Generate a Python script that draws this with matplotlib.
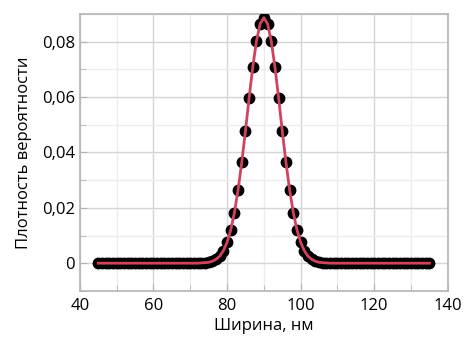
import matplotlib
matplotlib.use("Agg")
import matplotlib.pyplot as plt
from matplotlib.ticker import FuncFormatter, MultipleLocator

# Ширина, нм (шаг 1 нм)
width_nm = list(range(45, 136))

# Плотность вероятности
tail = [0.0] * 28
left = [0.0001, 0.0002, 0.0003, 0.0007, 0.0014, 0.0025, 0.0045, 0.0075,
        0.0120, 0.0183, 0.0265, 0.0365, 0.0478, 0.0598, 0.0710, 0.0803, 0.0865]
peak = [0.0887]
right = [0.0865, 0.0803, 0.0710, 0.0598, 0.0478, 0.0365, 0.0265, 0.0183,
         0.0120, 0.0075, 0.0045, 0.0025, 0.0014, 0.0007, 0.0003, 0.0002, 0.0001]
density = tail + left + peak + right + tail

plt.rcParams["font.family"] = ["Open Sans", "DejaVu Sans"]

fig = plt.figure(figsize=(4.67, 3.43), dpi=100)
ax = fig.add_axes([0.171, 0.152, 0.788, 0.807])

ax.plot(width_nm, density, "o", color="black", ms=7.5, zorder=3)
ax.plot(width_nm, density, "-", color="#d0435c", lw=2.0, zorder=4)

ax.set_xlim(40, 140)
ax.set_ylim(-0.01, 0.09)
ax.xaxis.set_major_locator(MultipleLocator(20))
ax.xaxis.set_minor_locator(MultipleLocator(10))
ax.yaxis.set_major_locator(MultipleLocator(0.02))
ax.yaxis.set_minor_locator(MultipleLocator(0.01))
ax.yaxis.set_major_formatter(FuncFormatter(
    lambda v, _: "0" if abs(v) < 1e-9 else f"{v:.2f}".replace(".", ",")))

ax.grid(which="major", color="#d4d4d4", lw=1.0)
ax.grid(which="minor", color="#ececec", lw=1.0)
ax.set_axisbelow(True)

for s in ax.spines.values():
    s.set_color("#b4b4b4")
    s.set_linewidth(1.2)
ax.tick_params(which="both", direction="in", color="#b4b4b4", labelsize=12,
               labelcolor="black")
ax.tick_params(axis="x", pad=5)
ax.tick_params(which="major", length=5)
ax.tick_params(which="minor", length=4)

ax.set_xlabel("Ширина, нм", fontsize=12, color="black", labelpad=3)
ax.set_ylabel("Плотность вероятности", fontsize=12, color="black", labelpad=7)

fig.savefig("out.png", dpi=100)
